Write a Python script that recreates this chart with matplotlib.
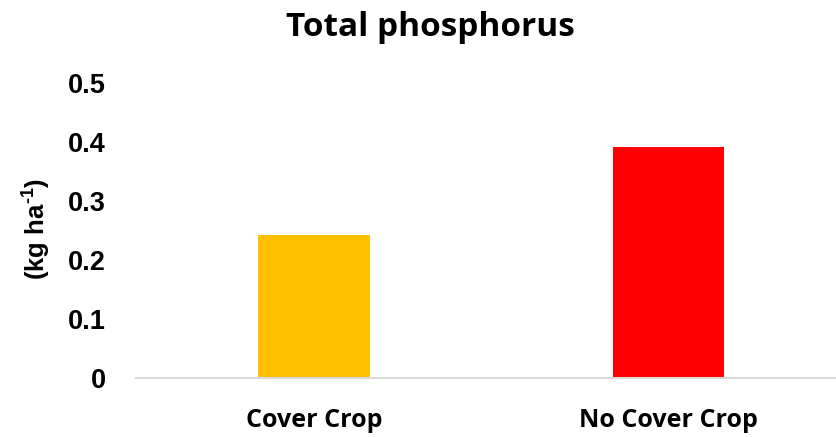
import matplotlib
matplotlib.use("Agg")
import matplotlib.pyplot as plt

plt.rcParams["mathtext.fontset"] = "custom"
plt.rcParams["mathtext.rm"] = "Liberation Sans:bold"
plt.rcParams["mathtext.bf"] = "Liberation Sans:bold"
plt.rcParams["mathtext.it"] = "Liberation Sans:bold"

categories = ["Cover Crop", "No Cover Crop"]
values = [0.2424, 0.3918]
colors = ["#FFC000", "#FF0000"]
yticks = [0, 0.1, 0.2, 0.3, 0.4, 0.5]
ytick_labels = ["0", "0.1", "0.2", "0.3", "0.4", "0.5"]

fig = plt.figure(figsize=(8.36, 4.37), dpi=100)
W, H = 836, 437
left, right = 136.5, 846
bottom, top = 377.7, 83.3
ax = fig.add_axes([left / W, 1 - bottom / H, (right - left) / W, (bottom - top) / H])

x = list(range(len(categories)))
ax.bar(x, values, width=0.315, color=colors, zorder=2)
ax.set_xlim(-0.5, 1.5)
ax.set_ylim(0, 0.5)

for s in ["top", "right", "left"]:
    ax.spines[s].set_visible(False)
ax.spines["bottom"].set_color("#D9D9D9")
ax.spines["bottom"].set_linewidth(1.5)
ax.spines["bottom"].set_zorder(3)

ax.set_yticks(yticks)
ax.set_yticklabels(ytick_labels, fontfamily="Liberation Sans", fontweight="bold", fontsize=19.5)
ax.tick_params(axis="y", length=0, pad=22)
ax.set_xticks(x)
ax.set_xticklabels(categories, fontfamily="Open Sans", fontweight="bold", fontsize=18)
ax.tick_params(axis="x", length=0, pad=22)

fig.text(37 / W, 1 - 229 / H, r"(kg ha$^{\text{-}1}$)", rotation=90, ha="center", va="center",
         fontfamily="Liberation Sans", fontweight="bold", fontsize=18.5)
fig.text(430 / W, 1 - 27 / H, "Total phosphorus", ha="center", va="center",
         fontfamily="Open Sans", fontweight="bold", fontsize=24)

fig.savefig("out.png", dpi=100)
